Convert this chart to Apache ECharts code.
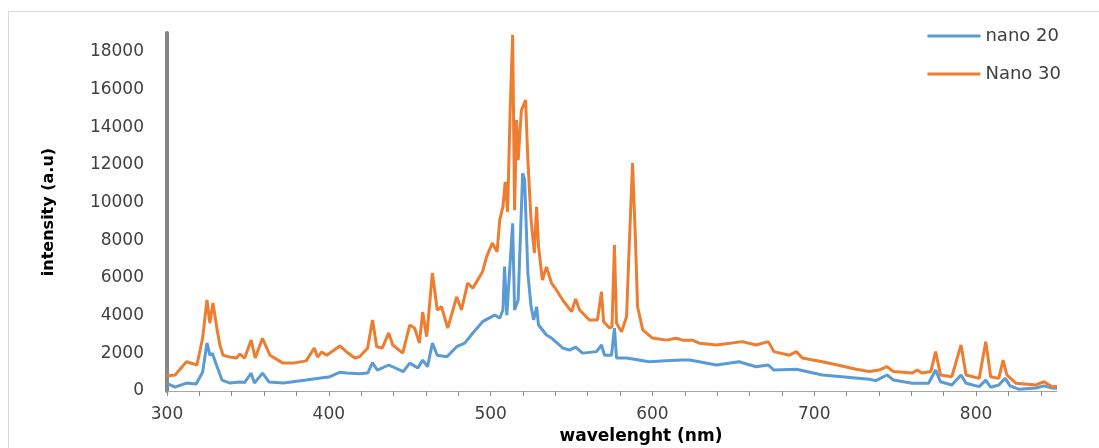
<!DOCTYPE html>
<html>
<head>
<meta charset="utf-8">
<script src="https://cdn.jsdelivr.net/npm/echarts@6/dist/echarts.min.js"></script>
<style>
  html, body { margin: 0; padding: 0; background: #fff; }
  #main { width: 1099px; height: 448px; }
</style>
</head>
<body>
<div id="main"></div>
<script>
// spectrum (wavelength nm, intensity a.u)
var wlNano20 = [300, 305, 312, 318, 322, 324.7, 326.5, 328, 331, 334, 339, 345, 348, 352, 354, 359, 363, 372, 386, 395, 400, 407, 411, 419, 424, 427, 430, 437, 446, 450, 455, 458, 461, 464, 467, 473, 479, 484, 489, 495, 499, 502.5, 505.6, 507.6, 508.6, 510, 513.6, 514.8, 517, 519.8, 521, 523, 525, 526.6, 528.4, 529.6, 534.5, 537.6, 542.6, 544.5, 548.8, 552.5, 556.8, 565.4, 568.5, 570.4, 574.7, 576.5, 577.8, 584, 598, 608, 618.5, 622.8, 629, 639.5, 653.5, 664, 671.6, 675, 689, 705, 717, 734, 738, 745, 749, 760.5, 770.6, 775, 778, 785, 790.7, 793.8, 801.9, 806, 809, 814, 818, 821, 826.7, 837, 842, 847, 850];
var nano20 = [400, 210, 420, 370, 1000, 2550, 1900, 2000, 1270, 580, 420, 480, 450, 950, 420, 950, 480, 420, 580, 690, 740, 1000, 950, 920, 950, 1500, 1110, 1380, 1030, 1480, 1220, 1640, 1290, 2540, 1900, 1820, 2350, 2540, 3080, 3680, 3870, 4030, 3870, 4300, 6600, 4030, 8900, 4300, 4830, 11560, 11200, 6260, 4470, 3770, 4470, 3500, 2970, 2810, 2440, 2280, 2170, 2330, 2010, 2090, 2440, 1900, 1900, 3340, 1750, 1750, 1550, 1600, 1640, 1640, 1550, 1380, 1550, 1290, 1380, 1110, 1150, 850, 760, 620, 550, 850, 580, 410, 410, 1110, 490, 320, 850, 410, 230, 580, 200, 320, 670, 270, 90, 160, 270, 160, 150];

var wlNano30 = [300, 305, 312, 318.5, 322, 324.7, 326.5, 328.4, 331, 332.7, 334.6, 339, 343, 345, 348, 352, 354.5, 359, 363.6, 371.6, 378, 386, 391, 393, 395.6, 398.7, 406.8, 411, 416, 419, 424, 427, 429.6, 433, 437, 439.5, 445.7, 450, 453, 456, 458, 460.5, 464, 467, 469.6, 473.5, 479, 482, 485.8, 489, 495, 497.5, 501, 504, 505.6, 507.6, 509, 510.5, 512, 513.6, 514.8, 516, 517, 519, 521.6, 523, 525, 527, 528.4, 529.6, 532, 534.5, 537.6, 540, 544.5, 550, 552.5, 555, 561, 566, 568.5, 569.8, 573.5, 575, 576.5, 577.8, 580.9, 584, 585.8, 587.7, 589.5, 590.8, 594, 600, 608.6, 614.8, 618.5, 624.7, 629, 639.5, 655.6, 664, 671.6, 675, 684.6, 688.9, 692.6, 705, 717, 726, 734, 740, 745, 749, 760.5, 763.6, 766.7, 772, 775, 778, 785, 790.7, 793.8, 801.9, 806, 809, 814, 816.7, 819, 824.7, 837, 842, 847, 850];
var nano30 = [800, 850, 1550, 1380, 2800, 4830, 3600, 4670, 3240, 2440, 1900, 1800, 1750, 1960, 1750, 2700, 1750, 2800, 1900, 1480, 1480, 1600, 2280, 1800, 2070, 1900, 2390, 2070, 1750, 1820, 2280, 3770, 2350, 2280, 3080, 2440, 2010, 3500, 3340, 2540, 4190, 2880, 6260, 4300, 4470, 3340, 5000, 4300, 5730, 5460, 6330, 7120, 7850, 7390, 9070, 9780, 11100, 9510, 14750, 18900, 9600, 14380, 12250, 14900, 15440, 12250, 9070, 7320, 9780, 7660, 5890, 6590, 5730, 5450, 4830, 4210, 4880, 4300, 3770, 3770, 5270, 3680, 3340, 3410, 7750, 3600, 3150, 3940, 8010, 12100, 8010, 4470, 3240, 2810, 2700, 2800, 2700, 2700, 2540, 2440, 2620, 2440, 2620, 2090, 1900, 2090, 1750, 1550, 1330, 1150, 1030, 1110, 1290, 1030, 950, 1110, 950, 1030, 2090, 850, 760, 2440, 850, 670, 2620, 760, 670, 1640, 850, 410, 320, 490, 230, 250];

var xTicks = [300, 400, 500, 600, 700, 800];

function pairs(xs, ys) {
  var out = [];
  for (var i = 0; i < xs.length; i++) {
    out.push([xs[i], ys[i]]);
  }
  return out;
}

var chart = echarts.init(document.getElementById('main'), null, { renderer: 'canvas' });

var option = {
  animation: false,
  backgroundColor: '#fff',
  graphic: [{
    type: 'rect',
    shape: { x: 8.5, y: 11.5, width: 1200, height: 600 },
    style: { fill: 'none', stroke: '#d9d9d9', lineWidth: 1 },
    silent: true
  }],
  grid: { left: 167, right: 42, top: 33, bottom: 57, outerBoundsMode: 'none', containLabel: false },
  legend: {
    orient: 'vertical',
    right: 33,
    top: 22,
    itemWidth: 53,
    itemHeight: 14,
    itemGap: 20,
    itemStyle: { opacity: 0 },
    lineStyle: { width: 3 },
    textStyle: { fontFamily: 'DejaVu Sans', fontSize: 18, color: '#404040' },
    data: ['nano 20', 'Nano 30']
  },
  xAxis: {
    type: 'value',
    min: 300,
    max: 850,
    interval: 20,
    name: 'wavelenght (nm)',
    nameLocation: 'middle',
    nameGap: 37,
    nameTextStyle: { fontFamily: 'DejaVu Sans', fontWeight: 'bold', fontSize: 17, color: '#000', padding: [0, 0, 0, 58] },
    axisLine: { show: true, lineStyle: { color: '#a6a6a6', width: 1 } },
    axisTick: { show: true, length: 5, lineStyle: { color: '#8c8c8c' } },
    splitLine: { show: false },
    axisLabel: {
      margin: 15,
      fontFamily: 'DejaVu Sans',
      fontSize: 17,
      color: '#404040',
      showMaxLabel: false,
      formatter: function (v) { return xTicks.indexOf(v) >= 0 ? String(v) : ''; }
    }
  },
  yAxis: {
    type: 'value',
    min: 0,
    max: 19000,
    interval: 2000,
    name: 'intensity (a.u)',
    nameLocation: 'middle',
    nameGap: 110,
    nameTextStyle: { fontFamily: 'DejaVu Sans', fontWeight: 'bold', fontSize: 16, color: '#000' },
    axisLine: { show: true, lineStyle: { color: '#868686', width: 4 } },
    axisTick: { show: false },
    splitLine: { show: false },
    axisLabel: {
      margin: 23,
      fontFamily: 'DejaVu Sans',
      fontSize: 17,
      color: '#404040',
      showMaxLabel: false,
      formatter: function (v) { return String(v); }
    }
  },
  series: [{
    name: 'nano 20',
    type: 'line',
    data: pairs(wlNano20, nano20),
    symbol: 'none',
    color: '#5B9BD5',
    lineStyle: { width: 3, color: '#5B9BD5' },
    z: 2
  }, {
    name: 'Nano 30',
    type: 'line',
    data: pairs(wlNano30, nano30),
    symbol: 'none',
    color: '#ED7D31',
    lineStyle: { width: 3, color: '#ED7D31' },
    z: 3
  }]
};

chart.setOption(option);
</script>
</body>
</html>
